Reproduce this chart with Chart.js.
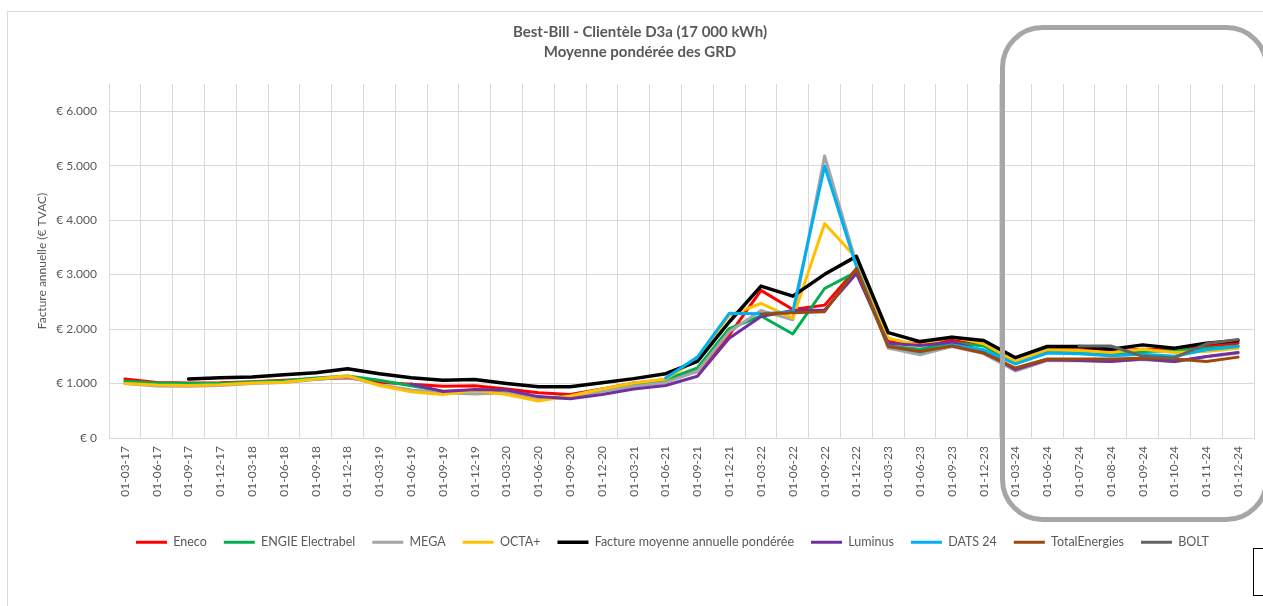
<!DOCTYPE html>
<html>
<head>
<meta charset="utf-8">
<script src="https://cdn.jsdelivr.net/npm/chart.js@4.4.1/dist/chart.umd.min.js"></script>
<style>
    body { margin: 0; background: #ffffff; }
    #wrap { position: relative; width: 1263px; height: 606px; }
</style>
</head>
<body>
<div id="wrap"><canvas id="canvas"></canvas></div>
<script>
"use strict";

// x categories (dates of the price snapshots)
const labels = ['01-03-17', '01-06-17', '01-09-17', '01-12-17', '01-03-18', '01-06-18', '01-09-18', '01-12-18',
    '01-03-19', '01-06-19', '01-09-19', '01-12-19', '01-03-20', '01-06-20', '01-09-20', '01-12-20',
    '01-03-21', '01-06-21', '01-09-21', '01-12-21', '01-03-22', '01-06-22', '01-09-22', '01-12-22',
    '01-03-23', '01-06-23', '01-09-23', '01-12-23', '01-03-24', '01-06-24', '01-07-24', '01-08-24',
    '01-09-24', '01-10-24', '01-11-24', '01-12-24'];

// annual bill per supplier (EUR incl. VAT)
const eneco = [1085, 1020, 1010, 1015, 1035, 1060, 1085, 1105, 1025, 985, 950,
    960, 900, 830, 800, 900, 1010, 1070, 1220,
    1890, 2710, 2360, 2440, 3110,
    1770, 1730, 1790, 1710, 1380, 1620, 1620, 1600, 1630, 1630, 1690, 1740];
const engie = [1040, 1010, 1000, 1000, 1030, 1050, 1100, 1140, 1060, 960, 860,
    870, 860, 720, 770, 900, 960, 1070, 1285,
    2010, 2240, 1910, 2745, 3050,
    1690, 1630, 1750, 1690, 1365, 1570, 1570, 1550, 1590, 1600, 1650, 1690];
const mega = [1000, 955, 950, 965, 1000, 1020, 1075, 1120, 980, 880, 830,
    810, 830, 720, 740, 860, 950, 1020, 1225,
    1950, 2340, 2170, 5180, 3200,
    1650, 1530, 1680, 1550, 1230, 1420, 1420, 1410, 1440, 1400, 1490, 1560];
const octa = [1000, 975, 965, 980, 1010, 1025, 1085, 1145, 965, 850, 800,
    875, 800, 680, 770, 900, 1010, 1085, 1440,
    2250, 2470, 2200, 3940, 3300,
    1830, 1700, 1860, 1730, 1405, 1620, 1605, 1570, 1630, 1570, 1590, 1650];
const average = [null, null, 1085, 1105, 1120, 1160, 1200, 1270, 1180, 1105, 1060,
    1073, 1000, 940, 940, 1015, 1090, 1180, 1405,
    2130, 2790, 2605, 3005, 3335,
    1935, 1770, 1850, 1790, 1475, 1680, 1680, 1630, 1710, 1650, 1740, 1790];
const luminus = [null, null, null, null, null, null, null, null, null, 990, 855,
    890, 880, 760, 720, 800, 900, 965, 1135,
    1830, 2230, 2340, 2350, 3020,
    1740, 1700, 1760, 1600, 1255, 1436, 1424, 1406, 1450, 1406, 1497, 1570];
const dats24 = [null, null, null, null, null, null, null, null, null, null, null,
    null, null, null, null, null, null, 1100, 1485,
    2290, 2280, 2320, 4995, 3150,
    1690, 1580, 1710, 1620, 1360, 1560, 1545, 1510, 1540, 1500, 1620, 1680];
const totalEnergies = [null, null, null, null, null, null, null, null, null, null, null,
    null, null, null, null, null, null, null, null,
    null, 2270, 2300, 2320, 3110,
    1680, 1590, 1690, 1560, 1285, 1450, 1450, 1450, 1465, 1450, 1405, 1485];
const bolt = [null, null, null, null, null, null, null, null, null, null, null,
    null, null, null, null, null, null, null, null,
    null, null, null, null, null,
    null, null, null, null, null, null, 1690, 1690, 1500, 1470, 1730, 1810];

const yTicks = [0, 1000, 2000, 3000, 4000, 5000, 6000];

const seriesNames = ['Eneco', 'ENGIE Electrabel', 'MEGA', 'OCTA+', 'Facture moyenne annuelle pondérée',
    'Luminus', 'DATS 24', 'TotalEnergies', 'BOLT'];
const seriesData = [eneco, engie, mega, octa, average, luminus, dats24, totalEnergies, bolt];
const seriesColors = ['#ff0000', '#00b050', '#a5a5a5', '#ffc000', '#000000', '#7030a0', '#00b0f0', '#9e480e', '#636363'];

const textColor = '#595959';
const gridColor = '#d9d9d9';
const fontFamily = 'Lato, "Open Sans", sans-serif';

function euro(v) {
    return '€ ' + String(v).replace(/\B(?=(\d{3})+(?!\d))/g, '.');
}

// frame, highlight box around 2024 and the stray box bottom right
const decorations = {
    id: 'decorations',
    beforeDraw(chart) {
        let ctx = chart.ctx;
        ctx.save();
        ctx.strokeStyle = gridColor;
        ctx.lineWidth = 1;
        ctx.strokeRect(7.5, 11.5, 1400, 800);
        ctx.restore();
    },
    afterDraw(chart) {
        let ctx = chart.ctx;
        ctx.save();
        ctx.strokeStyle = '#a6a6a6';
        ctx.lineWidth = 5;
        ctx.beginPath();
        ctx.roundRect(1002.5, 27.5, 264, 492, 40);
        ctx.stroke();
        ctx.strokeStyle = '#000000';
        ctx.lineWidth = 1;
        ctx.strokeRect(1253.5, 548.5, 40, 47);
        ctx.restore();
    },
    afterLayout(chart) {
        // legend row starts at the same place as in the source
        chart.legend.left = 136 - chart.legend.options.labels.padding;
    }
};

let datasets = seriesNames.map((name, i) => ({
    label: name,
    data: seriesData[i],
    borderColor: seriesColors[i],
    backgroundColor: seriesColors[i],
    borderWidth: i === 4 ? 3.5 : 3,
    pointRadius: 0,
    pointHoverRadius: 0,
    tension: 0,
    borderJoinStyle: 'round',
    borderCapStyle: 'round',
    order: seriesNames.length - i
}));

new Chart(document.getElementById('canvas'), {
    type: 'line',
    data: { labels: labels, datasets: datasets },
    plugins: [decorations],
    options: {
        responsive: true,
        maintainAspectRatio: false,
        animation: false,
        layout: { padding: { left: 26, right: 9, top: 0, bottom: 47.5 } },
        plugins: {
            tooltip: { enabled: false },
            title: {
                display: true,
                text: ['Best-Bill - Clientèle D3a (17 000 kWh)', 'Moyenne pondérée des GRD'],
                color: textColor,
                font: { family: fontFamily, size: 15, weight: 'bold', lineHeight: 1.35 },
                padding: { top: 22, bottom: 21.5 }
            },
            legend: {
                position: 'bottom',
                align: 'start',
                labels: {
                    usePointStyle: true,
                    pointStyle: 'line',
                    pointStyleWidth: 31,
                    boxHeight: 12.5,
                    padding: 17,
                    color: textColor,
                    font: { family: fontFamily, size: 12.5 },
                    sort: (a, b) => a.datasetIndex - b.datasetIndex
                }
            }
        },
        scales: {
            x: {
                offset: true,
                grid: { offset: true, color: gridColor, drawTicks: false },
                border: { color: gridColor },
                ticks: {
                    color: textColor,
                    font: { family: fontFamily, size: 12 },
                    minRotation: 90,
                    maxRotation: 90,
                    autoSkip: false,
                    padding: 8
                },
                afterFit: scale => { scale.height = 81; }
            },
            y: {
                min: 0,
                max: 6500,
                grid: { color: gridColor, drawTicks: false },
                border: { display: false },
                ticks: {
                    stepSize: 1000,
                    padding: 12,
                    color: textColor,
                    font: { family: fontFamily, size: 12 },
                    callback: v => euro(v)
                },
                afterBuildTicks: scale => { scale.ticks = yTicks.map(v => ({ value: v })); },
                title: {
                    display: true,
                    text: 'Facture annuelle (€ TVAC)',
                    color: textColor,
                    font: { family: fontFamily, size: 12 },
                    padding: { top: 9, bottom: 0 }
                },
                afterFit: scale => { scale.width = 83; }
            }
        }
    }
});
</script>
</body>
</html>
